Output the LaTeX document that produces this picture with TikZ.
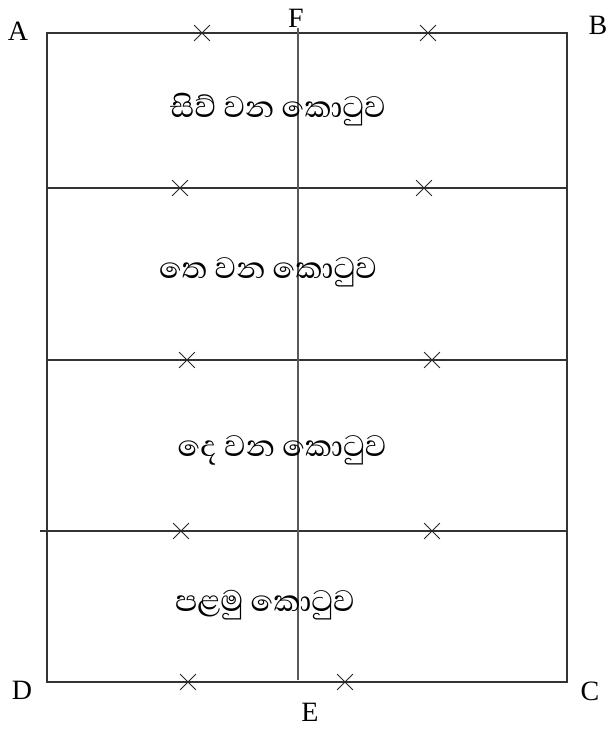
\documentclass[tikz,border=0pt]{standalone}
\usepackage{fontspec}
\setmainfont{Liberation Serif}
\newfontfamily\sinhalafont[Script=Sinhala]{Abhaya Libre}
\usetikzlibrary{shapes.misc}
\begin{document}
\begin{tikzpicture}[x=1pt,y=-1pt,
  edge/.style={draw=black!80,line width=1.1pt},
  mid/.style={draw=black!65,line width=1.2pt},
  xmark/.style={cross out,draw=black!85,line width=0.8pt,minimum size=15pt,inner sep=0pt},
  corner/.style={font=\fontsize{28}{30}\selectfont,inner sep=0pt},
  zone/.style={font=\sinhalafont\fontsize{38}{40}\selectfont,inner sep=0pt}]
\useasboundingbox (0,0) rectangle (614,749);
% corners
\coordinate (pA) at (47,33);
\coordinate (pB) at (567,33);
\coordinate (pC) at (567,682);
\coordinate (pD) at (47,682);
\coordinate (pF) at (298,28);
\coordinate (pE) at (298,680);
\coordinate (l1a) at (46,188); \coordinate (l1b) at (568,188);
\coordinate (l2a) at (47,360); \coordinate (l2b) at (568,360);
\coordinate (l3a) at (40,531); \coordinate (l3b) at (568,531);
% frame
\draw[edge] (pA) -- (pB) -- (pC) -- (pD) -- cycle;
\draw[edge] (l1a) -- (l1b);
\draw[edge] (l2a) -- (l2b);
\draw[edge] (l3a) -- (l3b);
\draw[mid] (pF) -- (pE);
% labels
\node[corner] (A) at (18,31) {A};
\node[corner] (B) at (598,25) {B};
\node[corner] (F) at (296,18) {F};
\node[corner] (D) at (22,690) {D};
\node[corner] (C) at (590,691) {C};
\node[corner] (E) at (310,712) {E};
% crosses
\node[xmark] (x1) at (202,33) {};
\node[xmark] (x2) at (428,33) {};
\node[xmark] (x3) at (180,188) {};
\node[xmark] (x4) at (424,188) {};
\node[xmark] (x5) at (187,360) {};
\node[xmark] (x6) at (432,360) {};
\node[xmark] (x7) at (181,531) {};
\node[xmark] (x8) at (432,531) {};
\node[xmark] (x9) at (188,682) {};
\node[xmark] (x10) at (345,682) {};
% zone texts
\node[zone] (z4) at (278,110) {සිව් වන කොටුව};
\node[zone] (z3) at (268,272) {තෙ වන කොටුව};
\node[zone] (z2) at (282,450) {දෙ වන කොටුව};
\node[zone] (z1) at (265,605) {පළමු කොටුව};
\end{tikzpicture}
\end{document}
